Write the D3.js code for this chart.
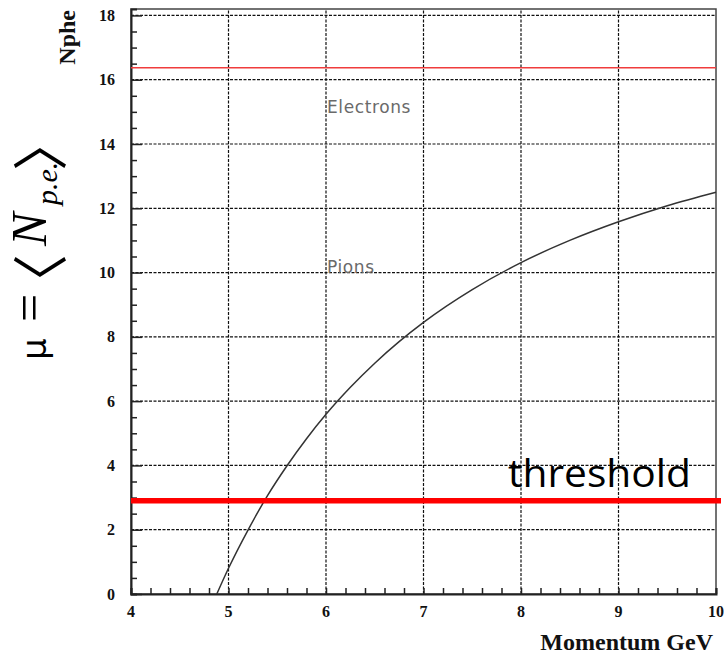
<!DOCTYPE html>
<html>
<head>
<meta charset="utf-8">
<script src="https://cdn.jsdelivr.net/npm/d3@7"></script>
<style>
  html, body { margin: 0; padding: 0; background: #fff; }
  svg { display: block; }
</style>
</head>
<body>
<svg id="chart" width="724" height="657"></svg>
<script>
// Cherenkov photoelectron yield vs momentum
const xTicks = [4, 5, 6, 7, 8, 9, 10];
const yTicks = [0, 2, 4, 6, 8, 10, 12, 14, 16, 18];

// pion yield: momentum (GeV) and mean number of photoelectrons
const pionMomentum = [4.88, 5.0, 5.2, 5.4, 5.6, 5.8, 6.0, 6.25, 6.5, 6.75, 7.0, 7.5, 8.0, 8.5, 9.0, 9.5, 10.0];
const pionNphe     = [0.0, 0.80, 1.99, 3.06, 3.99, 4.83, 5.59, 6.43, 7.18, 7.85, 8.45, 9.47, 10.31, 11.0, 11.58, 12.08, 12.5];

// electron yield (saturated) and detection threshold
const electronNphe = 16.37;
const thresholdNphe = 2.9;

const svg = d3.select("#chart");
const plotL = 131, plotR = 716, plotT = 9, plotB = 594;

const x = d3.scaleLinear().domain([4, 10]).range([plotL, plotR]);
const y = d3.scaleLinear().domain([0, 18.2]).range([plotB, plotT]);

// dashed grid
const grid = svg.append("g")
  .attr("stroke", "#111").attr("stroke-width", 1.2).attr("stroke-dasharray", "3,1.5");
grid.selectAll("line.gx").data(xTicks.slice(1, -1)).join("line")
  .attr("x1", d => x(d)).attr("x2", d => x(d))
  .attr("y1", plotB).attr("y2", plotT);
grid.selectAll("line.gy").data(yTicks.slice(1)).join("line")
  .attr("x1", plotL).attr("x2", plotR)
  .attr("y1", d => y(d)).attr("y2", d => y(d));

// frame
svg.append("rect")
  .attr("x", plotL).attr("y", plotT)
  .attr("width", plotR - plotL).attr("height", plotB - plotT)
  .attr("fill", "none").attr("stroke", "#444").attr("stroke-width", 1.5);

// axes with inward ticks
const xAxis = d3.axisTop(x).tickValues(d3.range(4, 10.001, 0.2)).tickSize(6).tickFormat("");
const gx = svg.append("g").attr("transform", `translate(0,${plotB})`).call(xAxis);
gx.selectAll("line").attr("stroke", "#222").attr("stroke-width", 1.5);
gx.select(".domain").attr("stroke", "#222").attr("stroke-width", 2);

const yAxis = d3.axisRight(y).tickValues(d3.range(0, 18.001, 0.5)).tickFormat("")
  .tickSize(6);
const gy = svg.append("g").attr("transform", `translate(${plotL},0)`).call(yAxis);
gy.selectAll("line").attr("stroke", "#222").attr("stroke-width", 1.5)
  .attr("x2", d => (Math.abs(d % 2) < 1e-6 ? 11 : 6));
gy.select(".domain").attr("stroke", "#222").attr("stroke-width", 2);

// tick labels
svg.append("g").selectAll("text").data(yTicks).join("text")
  .attr("x", 115).attr("y", d => y(d)).attr("dy", "0.35em")
  .attr("text-anchor", "end")
  .attr("font-family", "Liberation Serif, serif").attr("font-weight", "bold")
  .attr("font-size", 16).attr("fill", "#111")
  .text(d => d);
svg.append("g").selectAll("text").data(xTicks).join("text")
  .attr("x", d => x(d)).attr("y", 617)
  .attr("text-anchor", "middle")
  .attr("font-family", "Liberation Serif, serif").attr("font-weight", "bold")
  .attr("font-size", 16).attr("fill", "#111")
  .text(d => d);

// axis titles
svg.append("text")
  .attr("x", 713).attr("y", 650).attr("text-anchor", "end")
  .attr("font-family", "Liberation Serif, serif").attr("font-weight", "bold")
  .attr("font-size", 24).attr("fill", "#111")
  .text("Momentum GeV");
svg.append("text")
  .attr("transform", "translate(75,10) rotate(-90)")
  .attr("text-anchor", "end")
  .attr("font-family", "Liberation Serif, serif").attr("font-weight", "bold")
  .attr("font-size", 24).attr("fill", "#111")
  .text("Nphe");

// mean photoelectron label, written along the rotated baseline
const mu = svg.append("text")
  .attr("transform", "translate(46,360) rotate(-90)")
  .attr("font-family", "Liberation Serif, serif")
  .attr("font-size", 50).attr("fill", "#000");
mu.append("tspan").attr("x", 0).attr("font-family", "DejaVu Sans, sans-serif").attr("font-size", 34).text("μ");
mu.append("tspan").attr("x", 38).text("=");
mu.append("tspan").attr("x", 50).attr("font-family", "Noto Sans CJK JP, sans-serif")
  .attr("font-size", 56).attr("dy", 15).text("〈");
mu.append("tspan").attr("x", 114).attr("dy", -15).attr("font-style", "italic").text("N");
mu.append("tspan").attr("x", 155).attr("dy", 11).attr("font-style", "italic").attr("font-size", 30).text("p.e.");
mu.append("tspan").attr("x", 189).attr("dy", 4).attr("font-family", "Noto Sans CJK JP, sans-serif")
  .attr("font-size", 56).text("〉");

// series labels
svg.append("text").attr("x", 327).attr("y", 113)
  .attr("font-family", "DejaVu Sans, sans-serif").attr("font-size", 17)
  .attr("letter-spacing", 0.6)
  .attr("fill", "#6a6a6a").text("Electrons");
svg.append("text").attr("x", 327).attr("y", 273)
  .attr("font-family", "DejaVu Sans, sans-serif").attr("font-size", 17)
  .attr("letter-spacing", 0.6)
  .attr("fill", "#6a6a6a").text("Pions");

// electron level
svg.append("line")
  .attr("x1", plotL).attr("x2", plotR)
  .attr("y1", y(electronNphe)).attr("y2", y(electronNphe))
  .attr("stroke", "#f03c3c").attr("stroke-width", 1.5);

// pion curve
const pionData = pionMomentum.map((p, i) => [p, pionNphe[i]]);
svg.append("path")
  .datum(pionData)
  .attr("d", d3.line().x(d => x(d[0])).y(d => y(d[1])).curve(d3.curveMonotoneX))
  .attr("fill", "none").attr("stroke", "#333").attr("stroke-width", 1.5);

// threshold
svg.append("line")
  .attr("x1", plotL).attr("x2", 721)
  .attr("y1", y(thresholdNphe)).attr("y2", y(thresholdNphe))
  .attr("stroke", "#ff0000").attr("stroke-width", 5.5);
svg.append("text").attr("x", 508).attr("y", 487)
  .attr("font-family", "Open Sans, sans-serif").attr("font-size", 39)
  .attr("textLength", 183).attr("lengthAdjust", "spacingAndGlyphs")
  .attr("fill", "#000").text("threshold");
</script>
</body>
</html>
